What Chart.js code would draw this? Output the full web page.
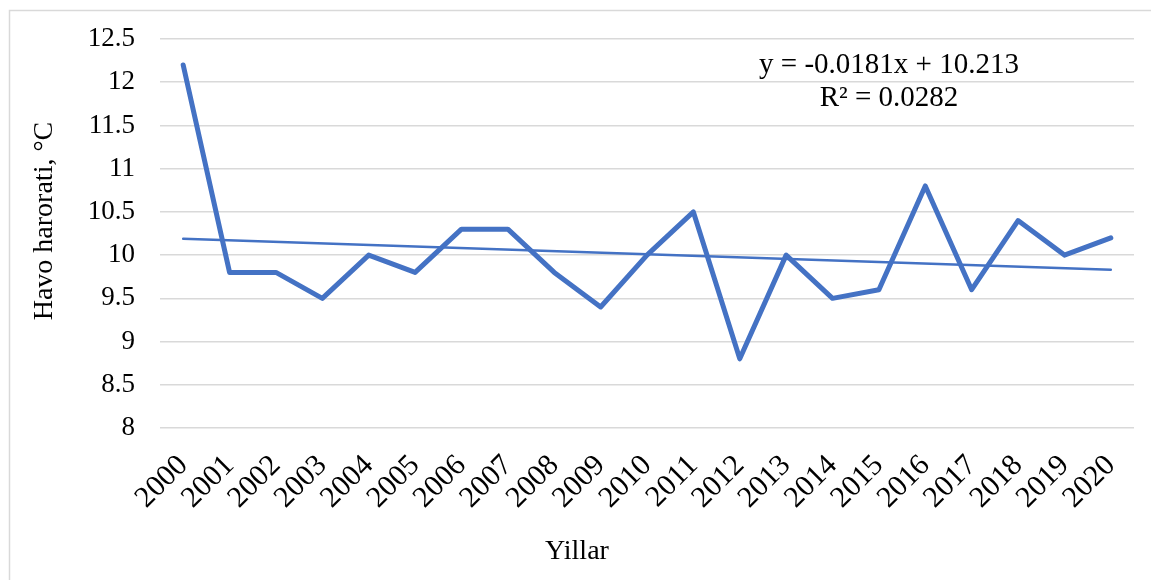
<!DOCTYPE html>
<html>
<head>
<meta charset="utf-8">
<script src="https://cdn.jsdelivr.net/npm/chart.js@4"></script>
<style>
  html, body { margin: 0; padding: 0; background: #fff; }
  #wrap { width: 1151px; height: 580px; position: relative; }
</style>
</head>
<body>
<div id="wrap"><canvas id="chart" width="1151" height="580"></canvas></div>
<script>
const yillar = ['2000', '2001', '2002', '2003', '2004', '2005', '2006', '2007', '2008', '2009', '2010',
    '2011', '2012', '2013', '2014', '2015', '2016', '2017', '2018', '2019', '2020'];
const harorat = [12.2, 9.8, 9.8, 9.5, 10.0, 9.8, 10.3, 10.3, 9.8, 9.4, 10.0,
    10.5, 8.8, 10.0, 9.5, 9.6, 10.8, 9.6, 10.4, 10.0, 10.2];
// trend line ends (only first and last year)
const trendStart = 10.19;
const trendEnd = 9.83;
const trend = yillar.map((y, i) => i === 0 ? trendStart : (i === yillar.length - 1 ? trendEnd : null));
const yTicks = [8, 8.5, 9, 9.5, 10, 10.5, 11, 11.5, 12, 12.5];
const equation = ['y = -0.0181x + 10.213', 'R² = 0.0282'];
const xTitle = 'Yillar';
const yTitle = 'Havo harorati, °C';

const blue = '#4472C4';
const serif = "'Liberation Serif', 'Times New Roman', serif";

// frame, axis titles and trend equation
const frame = {
    id: 'frame',
    beforeDraw(chart) {
        const ctx = chart.ctx;
        ctx.save();
        ctx.fillStyle = '#fff';
        ctx.fillRect(0, 0, chart.width, chart.height);
        ctx.strokeStyle = '#d9d9d9';
        ctx.lineWidth = 1.5;
        ctx.strokeRect(9.5, 10.5, chart.width + 20, chart.height + 20);
        ctx.restore();
    },
    afterDatasetsDraw(chart) {
        const ctx = chart.ctx;
        const a = chart.chartArea;
        ctx.save();
        ctx.fillStyle = '#000';
        ctx.textAlign = 'center';
        ctx.textBaseline = 'middle';
        ctx.font = '29px ' + serif;
        ctx.fillText(equation[0], a.left + 729, 65);
        ctx.fillText(equation[1], a.left + 729, 98);
        ctx.font = '28px ' + serif;
        ctx.fillText(xTitle, 577, 552);
        ctx.translate(45, 221);
        ctx.rotate(-Math.PI / 2);
        ctx.fillText(yTitle, 0, 0);
        ctx.restore();
    }
};

const config = {
    type: 'line',
    data: {
        labels: yillar,
        datasets: [{
            label: 'Havo harorati',
            data: harorat,
            borderColor: blue,
            borderWidth: 5,
            borderJoinStyle: 'round',
            borderCapStyle: 'round',
            pointRadius: 0,
            tension: 0
        },
        {
            label: 'Trend',
            data: trend,
            borderColor: blue,
            borderWidth: 2.5,
            borderCapStyle: 'round',
            pointRadius: 0,
            spanGaps: true
        }]
    },
    options: {
        responsive: false,
        animation: false,
        layout: {
            padding: { top: 39, right: 17, bottom: 13, left: 30 }
        },
        plugins: {
            legend: { display: false },
            tooltip: { enabled: false }
        },
        scales: {
            x: {
                offset: true,
                grid: { display: false, drawTicks: false },
                border: { display: false },
                ticks: {
                    color: '#000',
                    font: { family: serif, size: 30 },
                    minRotation: 45,
                    maxRotation: 45,
                    autoSkip: false,
                    padding: 20
                },
                afterFit(s) {
                    s.height = 139;
                    s.paddingLeft = 0;
                    s.paddingRight = 0;
                }
            },
            y: {
                min: 8,
                max: 12.5,
                afterBuildTicks(s) { s.ticks = yTicks.map(v => ({ value: v })); },
                grid: { color: '#d9d9d9', lineWidth: 1.5, drawTicks: false },
                border: { display: false },
                ticks: {
                    color: '#000',
                    font: { family: serif, size: 27 },
                    padding: 25,
                    callback: v => String(v)
                },
                afterFit(s) {
                    s.width = 130;
                    s.paddingTop = 0;
                    s.paddingBottom = 0;
                }
            }
        }
    },
    plugins: [frame]
};

const chart = new Chart(document.getElementById('chart'), config);
</script>
</body>
</html>
